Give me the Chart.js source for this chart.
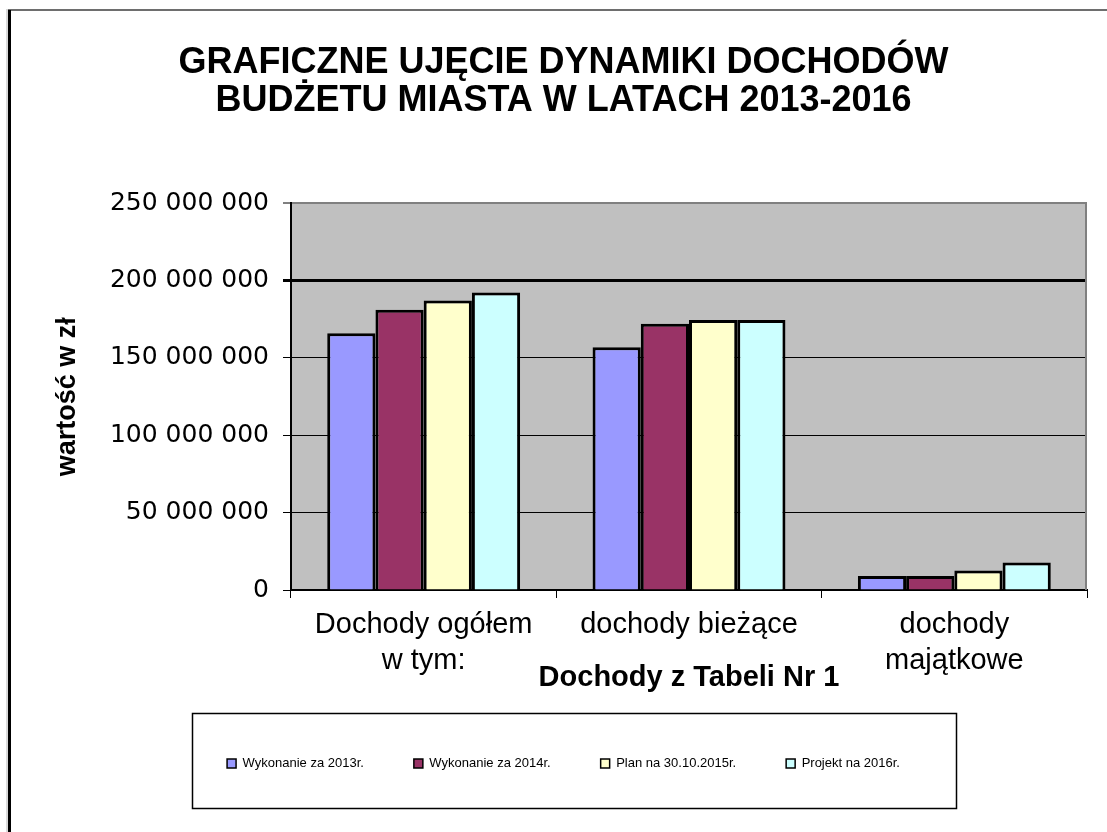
<!DOCTYPE html>
<html>
<head>
<meta charset="utf-8">
<script src="https://cdn.jsdelivr.net/npm/chart.js@4"></script>
<style>
  html, body { margin: 0; padding: 0; background: #fff; }
  canvas { display: block; }
</style>
</head>
<body>
<canvas id="c" width="1107" height="832"></canvas>
<script>
const titleLines = ["GRAFICZNE UJĘCIE DYNAMIKI DOCHODÓW", "BUDŻETU MIASTA W LATACH 2013-2016"];
const categories = [["Dochody ogółem", "w tym:"], "dochody bieżące", ["dochody", "majątkowe"]];
const seriesNames = ["Wykonanie za 2013r.", "Wykonanie za 2014r.", "Plan na 30.10.2015r.", "Projekt na 2016r."];
const values2013 = [166000000, 157000000, 9000000];
const values2014 = [181200000, 172100000, 9100000];
const values2015 = [187200000, 174600000, 12600000];
const values2016 = [192400000, 174600000, 17800000];
const seriesColors = ["#9999ff", "#993366", "#ffffcc", "#ccffff"];
const yTickValues = [0, 50000000, 100000000, 150000000, 200000000, 250000000];
const yAxisTitle = "wartość w zł";
const xAxisTitle = "Dochody z Tabeli Nr 1";

const seriesValues = [values2013, values2014, values2015, values2016];

function fmt(v) {
  return String(v).replace(/\B(?=(\d{3})+(?!\d))/g, " ");
}

const decorPlugin = {
  id: "decor",
  beforeDraw(chart) {
    const ctx = chart.ctx;
    const a = chart.chartArea;
    ctx.save();
    ctx.fillStyle = "#ffffff";
    ctx.fillRect(0, 0, chart.width, chart.height);
    ctx.fillStyle = "#6e6e6e";
    ctx.fillRect(6, 9, chart.width - 6, 2);
    ctx.fillStyle = "#d9d9d9";
    ctx.fillRect(6, 9, 2, chart.height - 9);
    ctx.fillStyle = "#000000";
    ctx.fillRect(8, 10, 3, chart.height - 10);
    ctx.fillStyle = "#c0c0c0";
    ctx.fillRect(a.left, a.top, a.right - a.left, a.bottom - a.top);
    ctx.restore();
  },
  beforeDatasetsDraw(chart) {
    const ctx = chart.ctx;
    const a = chart.chartArea;
    ctx.save();
    ctx.strokeStyle = "#808080";
    ctx.lineWidth = 2;
    ctx.beginPath();
    ctx.moveTo(a.right - 1, a.top);
    ctx.lineTo(a.right - 1, a.bottom);
    ctx.stroke();
    ctx.restore();
  },
  afterDraw(chart) {
    const ctx = chart.ctx;
    ctx.save();
    ctx.strokeStyle = "#000000";
    ctx.lineWidth = 1.5;
    ctx.strokeRect(192.5, 713.5, 764, 95);
    ctx.restore();
  }
};

const datasets = seriesNames.map((name, i) => ({
  label: name,
  data: seriesValues[i],
  backgroundColor: seriesColors[i],
  borderColor: "#000000",
  borderWidth: 3,
  borderSkipped: "bottom",
  categoryPercentage: 0.727,
  barPercentage: 1.0
}));

new Chart(document.getElementById("c"), {
  type: "bar",
  data: { labels: categories, datasets },
  plugins: [decorPlugin],
  options: {
    responsive: false,
    animation: false,
    devicePixelRatio: 1,
    layout: { padding: { left: 40, right: 20, top: 20, bottom: 52 } },
    plugins: {
      tooltip: { enabled: false },
      title: {
        display: true,
        text: titleLines,
        color: "#000",
        font: { family: "'Liberation Sans', Arial, sans-serif", size: 36, weight: "bold", lineHeight: 1.06 },
        padding: { top: 24, bottom: 83 }
      },
      legend: {
        position: "bottom",
        align: "center",
        labels: {
          color: "#000",
          font: { family: "'Liberation Sans', Arial, sans-serif", size: 13 },
          boxWidth: 9,
          boxHeight: 9,
          padding: 50,
          generateLabels(chart) {
            const items = Chart.defaults.plugins.legend.labels.generateLabels(chart);
            items.forEach(it => { it.lineWidth = 1.5; it.strokeStyle = "#000"; });
            return items;
          }
        }
      }
    },
    scales: {
      x: {
        grid: {
          drawOnChartArea: false,
          drawTicks: true,
          tickLength: 8,
          color: "#000",
          lineWidth: 1
        },
        border: { color: "#000", width: 2 },
        ticks: {
          color: "#000",
          font: { family: "'Liberation Sans', Arial, sans-serif", size: 29, lineHeight: 1.25 },
          padding: 9,
          maxRotation: 0,
          autoSkip: false
        },
        title: {
          display: true,
          text: xAxisTitle,
          color: "#000",
          font: { family: "'Liberation Sans', Arial, sans-serif", size: 29, weight: "bold", lineHeight: 1.2 },
          padding: { top: 0, bottom: 12 }
        },
        afterFit(scale) { scale.height = 117; }
      },
      y: {
        min: 0,
        max: 250000000,
        afterBuildTicks(scale) {
          scale.ticks = yTickValues.map(v => ({ value: v }));
        },
        grid: {
          color: ctx => (ctx.tick && ctx.tick.value === 250000000 ? "#808080" : "#000"),
          tickColor: "#000",
          lineWidth: ctx => (ctx.tick && ctx.tick.value === 200000000 ? 3 : (ctx.tick && ctx.tick.value === 250000000 ? 2 : 1)),
          tickWidth: ctx => (ctx.tick && ctx.tick.value === 200000000 ? 3 : 1),
          tickLength: 8,
          drawTicks: true
        },
        border: { color: "#000", width: 2 },
        ticks: {
          color: "#000",
          font: { family: "'DejaVu Sans', sans-serif", size: 25 },
          padding: 14,
          callback: v => fmt(v)
        },
        title: {
          display: true,
          text: yAxisTitle,
          color: "#000",
          font: { family: "'Liberation Sans', Arial, sans-serif", size: 27, weight: "bold", lineHeight: 1.2 },
          padding: { top: 11, bottom: 0 }
        },
        afterFit(scale) { scale.width = 251; }
      }
    }
  }
});
</script>
</body>
</html>
